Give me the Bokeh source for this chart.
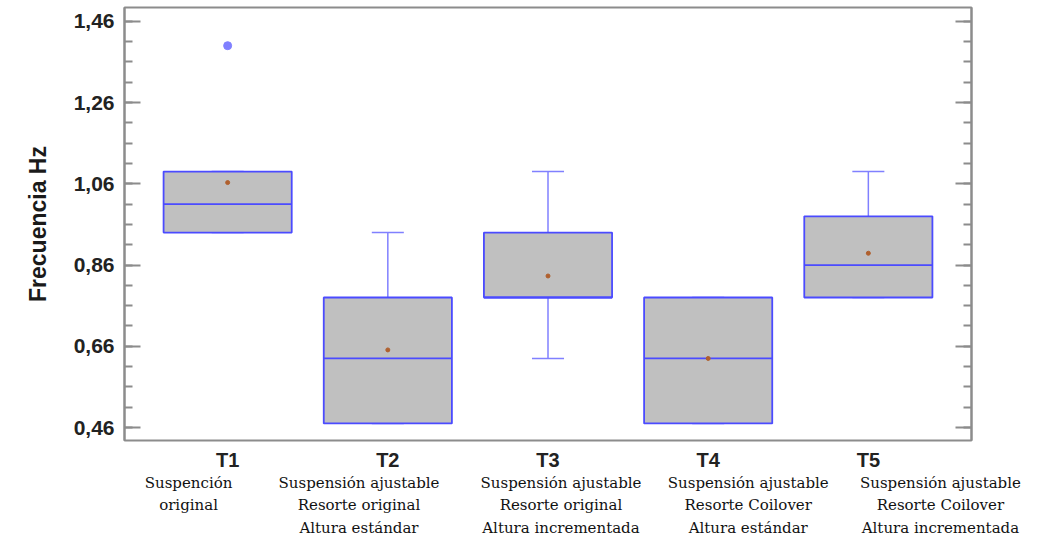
from bokeh.plotting import figure
from bokeh.models import FixedTicker, LinearAxis, Range1d, CustomJSTickFormatter
from bokeh.embed import file_html
from bokeh.resources import INLINE

# ---- data ----
groups = ["T1", "T2", "T3", "T4", "T5"]
descriptions = [
    "Suspención\noriginal",
    "Suspensión ajustable\nResorte original\nAltura estándar",
    "Suspensión ajustable\nResorte original\nAltura incrementada",
    "Suspensión ajustable\nResorte Coilover\nAltura estándar",
    "Suspensión ajustable\nResorte Coilover\nAltura incrementada",
]
q1 = [0.94, 0.47, 0.78, 0.47, 0.78]
median = [1.01, 0.63, 0.78, 0.63, 0.86]
q3 = [1.09, 0.78, 0.94, 0.78, 0.98]
whisk_lo = [0.94, 0.47, 0.63, 0.47, 0.78]
whisk_hi = [1.09, 0.94, 1.09, 0.78, 1.09]
means = [1.063, 0.651, 0.833, 0.63, 0.889]
outlier_group = [1]
outlier_value = [1.40]
y_ticks = [0.46, 0.66, 0.86, 1.06, 1.26, 1.46]
y_minor = [0.46 + 0.05 * i for i in range(21)]

# ---- layout / style ----
xs = [i + 1 for i in range(len(groups))]
box_w = 0.8
cap_w = 0.2
desc_pos = [0.756, 1.82, 3.081, 4.25, 5.45]

p = figure(width=1032, height=539, output_backend="svg", toolbar_location=None,
           x_range=Range1d(0.356, 5.644), y_range=Range1d(0.428, 1.494),
           min_border_left=124, min_border_right=61, min_border_top=7, min_border_bottom=0)
p.background_fill_color = "white"
p.border_fill_color = "white"
p.outline_line_color = "#8c8c8c"
p.outline_line_width = 2
p.xgrid.visible = False
p.ygrid.visible = False

whisk_col = "#8080ff"
box_col = "#4b4bff"

# whiskers
p.segment(xs, q3, xs, whisk_hi, line_color=whisk_col, line_width=1.5)
p.segment(xs, whisk_lo, xs, q1, line_color=whisk_col, line_width=1.5)
p.segment([x - cap_w / 2 for x in xs], whisk_hi, [x + cap_w / 2 for x in xs], whisk_hi,
          line_color=whisk_col, line_width=1.5)
p.segment([x - cap_w / 2 for x in xs], whisk_lo, [x + cap_w / 2 for x in xs], whisk_lo,
          line_color=whisk_col, line_width=1.5)
# boxes
p.vbar(x=xs, width=box_w, bottom=q1, top=q3, fill_color="#c0c0c0",
       line_color=box_col, line_width=1.8)
# medians
p.segment([x - box_w / 2 for x in xs], median, [x + box_w / 2 for x in xs], median,
          line_color=box_col, line_width=1.8)
# means
p.scatter(xs, means, size=4, color="#b0602e")
# outliers
p.scatter(outlier_group, outlier_value, size=8, color="#8080ff")

# ---- y axis ----
yt = FixedTicker(ticks=y_ticks, minor_ticks=y_minor)
fmt = CustomJSTickFormatter(code="return tick.toFixed(2).replace('.', ',');")
ya = p.yaxis[0]
ya.ticker = yt
ya.formatter = fmt
ya.axis_label = "Frecuencia Hz"
ya.axis_label_text_font = "Liberation Sans"
ya.axis_label_text_font_style = "bold"
ya.axis_label_text_font_size = "23px"
ya.axis_label_text_color = "#1a1a1a"
ya.axis_label_standoff = 20
ya.major_label_text_font = "Liberation Sans"
ya.major_label_text_font_style = "bold"
ya.major_label_text_font_size = "21px"
ya.major_label_text_color = "#222222"
ya.major_label_standoff = 10
ya.axis_line_color = "#8c8c8c"
ya.axis_line_width = 2
ya.major_tick_in = 16
ya.major_tick_out = 0
ya.minor_tick_in = 8
ya.minor_tick_out = 0
ya.major_tick_line_color = "#8c8c8c"
ya.minor_tick_line_color = "#8c8c8c"
ya.major_tick_line_width = 2
ya.minor_tick_line_width = 2

ra = LinearAxis(ticker=FixedTicker(ticks=y_ticks, minor_ticks=y_minor))
ra.formatter = CustomJSTickFormatter(code="return '';")
ra.major_label_standoff = 0
ra.axis_line_color = "#8c8c8c"
ra.axis_line_width = 2
ra.major_tick_in = 16
ra.major_tick_out = 0
ra.minor_tick_in = 8
ra.minor_tick_out = 0
ra.major_tick_line_color = "#8c8c8c"
ra.minor_tick_line_color = "#8c8c8c"
ra.major_tick_line_width = 2
ra.minor_tick_line_width = 2
p.add_layout(ra, "right")

# ---- x axes ----
xa = p.xaxis[0]
xa.ticker = FixedTicker(ticks=xs, minor_ticks=[])
xa.formatter = CustomJSTickFormatter(args=dict(labels=groups),
                                     code="return labels[Math.round(tick) - 1];")
xa.major_label_text_font = "Liberation Sans"
xa.major_label_text_font_style = "bold"
xa.major_label_text_font_size = "20px"
xa.major_label_text_color = "#222222"
xa.major_label_standoff = 8
xa.axis_line_color = None
xa.major_tick_line_color = None
xa.minor_tick_line_color = None
xa.major_tick_in = 0
xa.major_tick_out = 0

da = LinearAxis(ticker=FixedTicker(ticks=desc_pos, minor_ticks=[]))
da.formatter = CustomJSTickFormatter(
    args=dict(labels=descriptions, pos=desc_pos),
    code="""
let best = 0;
for (let i = 0; i < pos.length; i++) {
  if (Math.abs(pos[i] - tick) < Math.abs(pos[best] - tick)) best = i;
}
return labels[best];
""")
da.major_label_text_font = "DejaVu Serif"
da.major_label_text_font_size = "15px"
da.major_label_text_color = "#111111"
da.major_label_text_line_height = 1.25
da.major_label_standoff = 0
da.axis_line_color = None
da.major_tick_line_color = None
da.minor_tick_line_color = None
da.major_tick_in = 0
da.major_tick_out = 0
p.add_layout(da, "below")

open("out.html", "w").write(file_html(p, INLINE))
